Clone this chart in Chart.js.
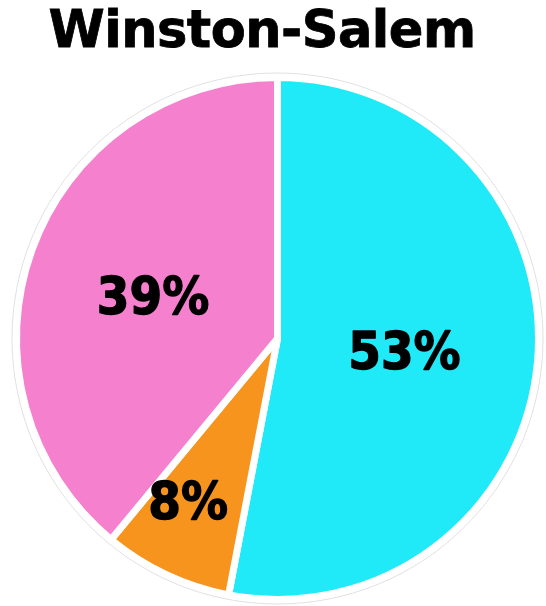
<!DOCTYPE html>
<html>
<head>
<meta charset="utf-8">
<title>Winston-Salem</title>
<script src="https://cdn.jsdelivr.net/npm/chart.js@4.4.1/dist/chart.umd.min.js"></script>
<style>
  html, body { margin: 0; padding: 0; background: #fff; }
  #wrap { position: relative; width: 546px; height: 606px; }
  #wrap canvas { position: absolute; left: 0; top: 0; }
  #title {
    position: absolute; left: 0; top: 4px; width: 524px;
    text-align: center; font: bold 51px/1 "DejaVu Sans", sans-serif;
    color: #000; letter-spacing: -0.5px; -webkit-text-stroke: 0.8px #000;
  }
</style>
</head>
<body>
<div id="wrap">
  <canvas id="pie" width="546" height="606"></canvas>
  <div id="title">Winston-Salem</div>
</div>
<script>
  const categories = ['A', 'B', 'C'];
  const shares = [53, 8, 39];
  const sliceColors = ['#20E9F8', '#F7941E', '#F580CE'];
  // label placement inside each slice: share of the radius, and a small turn in degrees
  const labelRadius = [0.49, 0.72, 0.5];
  const labelTurn = [1.6, 3.2, -2.3];

  // faint grey ring just outside the white slice borders
  const outerRing = {
    id: 'outerRing',
    beforeDatasetsDraw(chart) {
      const arc = chart.getDatasetMeta(0).data[0];
      if (!arc) return;
      const { ctx } = chart;
      ctx.save();
      ctx.beginPath();
      ctx.arc(arc.x, arc.y, arc.outerRadius + 4.5, 0, Math.PI * 2);
      ctx.strokeStyle = 'rgba(0,0,0,0.12)';
      ctx.lineWidth = 1;
      ctx.stroke();
      ctx.restore();
    }
  };

  // percentage text inside each slice
  const sliceLabels = {
    id: 'sliceLabels',
    afterDatasetsDraw(chart) {
      const { ctx } = chart;
      const meta = chart.getDatasetMeta(0);
      meta.data.forEach((arc, i) => {
        const mid = (arc.startAngle + arc.endAngle) / 2 + labelTurn[i] * Math.PI / 180;
        const r = arc.outerRadius * labelRadius[i];
        ctx.save();
        ctx.translate(arc.x + Math.cos(mid) * r, arc.y + Math.sin(mid) * r + 2);
        ctx.scale(1, 1.08);
        ctx.font = 'bold 47px "DejaVu Sans", sans-serif';
        ctx.fillStyle = '#000';
        ctx.strokeStyle = '#000';
        ctx.lineWidth = 1.3;
        ctx.lineJoin = 'round';
        ctx.textAlign = 'center';
        ctx.textBaseline = 'middle';
        ctx.fillText(shares[i] + '%', 0, 0);
        ctx.strokeText(shares[i] + '%', 0, 0);
        ctx.restore();
      });
    }
  };

  new Chart(document.getElementById('pie'), {
    type: 'pie',
    data: {
      labels: categories,
      datasets: [{
        data: shares,
        backgroundColor: sliceColors,
        borderColor: '#fff',
        borderWidth: 7
      }]
    },
    options: {
      responsive: false,
      animation: false,
      layout: { padding: { left: 13, right: 4, top: 74, bottom: 3 } },
      plugins: {
        legend: { display: false },
        tooltip: { enabled: false },
        title: { display: false }
      }
    },
    plugins: [outerRing, sliceLabels]
  });
</script>
</body>
</html>
